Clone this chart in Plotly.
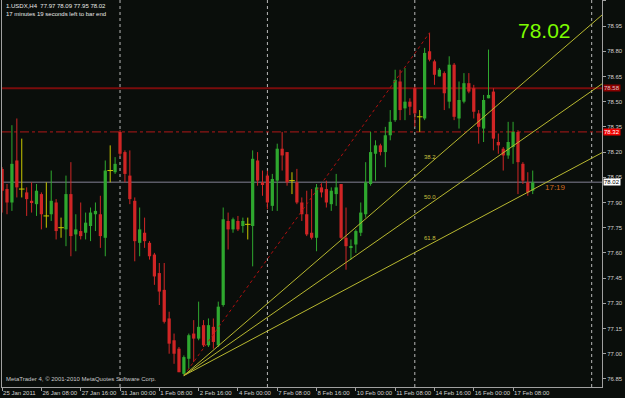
import plotly.graph_objects as go

# ---------------- data ----------------
opens = [78.10, 77.98, 77.90, 78.15, 77.98, 77.96, 77.91, 77.89, 77.95, 77.82,
         77.83, 77.90, 77.75, 77.74, 77.95, 77.71, 77.73, 77.72, 77.76, 77.83,
         77.83, 77.69, 78.09, 78.08, 78.32, 78.20, 78.06, 77.91, 77.66, 77.72,
         77.66, 77.59, 77.48, 77.38, 77.21, 77.08, 77.03, 76.88, 76.97, 77.12,
         77.09, 77.17, 77.05, 77.16, 77.05, 77.29, 77.79, 77.74, 77.79, 77.76,
         77.77, 77.76, 78.15, 78.02, 78.06, 77.88, 78.03, 78.22, 78.20, 78.03,
         78.02, 77.90, 77.83, 77.72, 77.69, 77.99, 77.98, 77.89, 77.95, 78.01,
         77.69, 77.63, 77.65, 77.72, 77.83, 78.01, 78.19, 78.24, 78.20, 78.30,
         78.39, 78.62, 78.46, 78.50, 78.58, 78.41, 78.40, 78.80, 78.74, 78.65,
         78.67, 78.50, 78.72, 78.40, 78.50, 78.61, 78.58, 78.43, 78.34, 78.52,
         78.56, 78.26, 78.22, 78.18, 78.23, 78.32, 78.13, 78.02, 77.97]
highs = [78.11, 78.01, 78.36, 78.40, 78.28, 77.99, 78.02, 78.01, 77.96, 78.02,
         78.09, 77.92, 77.81, 78.06, 78.14, 77.83, 77.90, 77.84, 77.87, 77.90,
         77.94, 78.15, 78.24, 78.17, 78.33, 78.21, 78.21, 77.93, 77.87, 77.81,
         77.67, 77.60, 77.54, 77.54, 77.25, 77.12, 77.04, 76.99, 77.12, 77.20,
         77.31, 77.20, 77.21, 77.21, 77.31, 77.87, 77.84, 77.81, 77.82, 77.81,
         77.81, 78.21, 78.20, 78.09, 78.09, 78.07, 78.25, 78.32, 78.20, 78.08,
         78.10, 77.93, 77.97, 77.98, 78.01, 78.01, 78.03, 77.99, 78.07, 78.01,
         77.87, 77.68, 77.74, 77.90, 78.14, 78.32, 78.27, 78.25, 78.35, 78.45,
         78.69, 78.69, 78.70, 78.52, 78.59, 78.45, 78.82, 78.91, 78.75, 78.70,
         78.68, 78.77, 78.73, 78.62, 78.67, 78.67, 78.60, 78.45, 78.54, 78.81,
         78.58, 78.31, 78.23, 78.38, 78.38, 78.33, 78.14, 78.08, 78.09]
lows = [77.84, 77.83, 77.85, 77.93, 77.93, 77.82, 77.84, 77.82, 77.74, 77.75,
        77.79, 77.68, 77.69, 77.64, 77.58, 77.61, 77.68, 77.68, 77.67, 77.73,
        77.63, 77.58, 78.02, 78.07, 78.17, 78.02, 77.89, 77.55, 77.58, 77.63,
        77.56, 77.41, 77.29, 77.18, 77.00, 76.94, 76.89, 76.87, 76.91, 76.95,
        77.08, 77.04, 77.04, 77.03, 77.04, 77.28, 77.62, 77.72, 77.73, 77.72,
        77.68, 77.52, 78.00, 77.94, 77.86, 77.85, 77.85, 78.09, 78.00, 77.95,
        77.89, 77.79, 77.70, 77.68, 77.61, 77.93, 77.87, 77.85, 77.88, 77.68,
        77.50, 77.56, 77.60, 77.70, 77.81, 78.00, 78.03, 78.18, 78.11, 78.27,
        78.38, 78.39, 78.39, 78.42, 78.35, 78.32, 78.39, 78.74, 78.60, 78.65,
        78.45, 78.46, 78.39, 78.34, 78.49, 78.55, 78.40, 78.25, 78.26, 78.52,
        78.21, 78.19, 78.09, 78.16, 78.13, 77.95, 78.01, 77.94, 77.95]
closes = [77.97, 77.90, 78.13, 77.99, 77.98, 77.92, 77.90, 77.97, 77.83, 77.82,
          77.91, 77.73, 77.75, 77.95, 77.70, 77.74, 77.70, 77.78, 77.84, 77.85,
          77.70, 78.09, 78.09, 78.13, 78.19, 78.07, 77.92, 77.67, 77.74, 77.67,
          77.58, 77.46, 77.37, 77.19, 77.06, 77.00, 76.89, 76.98, 77.11, 77.09,
          77.16, 77.05, 77.17, 77.07, 77.28, 77.80, 77.74, 77.80, 77.74, 77.79,
          77.77, 78.16, 78.03, 78.01, 77.90, 78.04, 78.22, 78.18, 78.02, 78.03,
          77.90, 77.83, 77.71, 77.69, 77.99, 77.96, 77.90, 77.97, 77.99, 77.69,
          77.64, 77.64, 77.73, 77.84, 78.02, 78.20, 78.24, 78.20, 78.30, 78.38,
          78.63, 78.45, 78.50, 78.47, 78.43, 78.41, 78.79, 78.75, 78.66, 78.69,
          78.55, 78.72, 78.41, 78.51, 78.61, 78.56, 78.44, 78.35, 78.51, 78.54,
          78.28, 78.24, 78.18, 78.26, 78.32, 78.14, 78.03, 77.96, 78.02]

tick_bars = [0, 8, 16, 24, 32, 40, 48, 56, 64, 72, 80, 88, 96, 104]
tick_labels = ["25 Jan 2011", "26 Jan 08:00", "27 Jan 16:00", "31 Jan 00:00",
               "1 Feb 08:00", "2 Feb 16:00", "4 Feb 00:00", "7 Feb 08:00",
               "8 Feb 16:00", "10 Feb 00:00", "11 Feb 08:00", "14 Feb 16:00",
               "16 Feb 00:00", "17 Feb 08:00"]
price_ticks = [76.85, 77.00, 77.15, 77.30, 77.45, 77.60, 77.75, 77.90, 78.05,
               78.20, 78.35, 78.50, 78.65, 78.80, 78.95, 79.10]
separator_bars = [24, 54, 84, 120]
fan_start = 37
fan_end = 87
fib_levels = [38.2, 50.0, 61.8]
hline_solid = 78.58
hline_dashdot = 78.32
bid_price = 78.02

X_MIN, X_MAX = -0.02, 122.1
Y_MIN, Y_MAX = 76.802, 79.105

BG = "#0a0e0b"
GREEN = "#2fa82f"
RED = "#d02626"
YELLOW = "#c8c800"
FONT = "Liberation Sans"

n = len(opens)
xs = list(range(n))

fig = go.Figure()

# wicks
for kind, col in (("bull", GREEN), ("bear", RED), ("doji", YELLOW)):
    wx, wy = [], []
    for i in xs:
        o, c = opens[i], closes[i]
        k = "bull" if c > o else ("bear" if c < o else "doji")
        if k != kind:
            continue
        wx += [i, i, None]
        wy += [lows[i], highs[i], None]
    fig.add_trace(go.Scatter(x=wx, y=wy, mode="lines",
                             line=dict(color=col, width=1), hoverinfo="skip"))

# bodies
for kind, col in (("bull", GREEN), ("bear", RED)):
    bx, bb, bh = [], [], []
    for i in xs:
        o, c = opens[i], closes[i]
        k = "bull" if c > o else ("bear" if c < o else "doji")
        if k != kind:
            continue
        bx.append(i)
        bb.append(min(o, c))
        bh.append(max(abs(c - o), 0.006))
    fig.add_trace(go.Bar(x=bx, y=bh, base=bb, width=0.66,
                         marker=dict(color=col, line=dict(width=0)),
                         hoverinfo="skip"))

# doji ticks
dx = [i for i in xs if opens[i] == closes[i]]
dy = [opens[i] for i in dx]
fig.add_trace(go.Scatter(x=dx, y=dy, mode="markers",
                         marker=dict(symbol="line-ew", size=4,
                                     line=dict(color=YELLOW, width=1)),
                         hoverinfo="skip"))

# red dotted trend line (low -> high)
p0 = lows[fan_start]
p1 = highs[fan_end]
fig.add_trace(go.Scatter(x=[fan_start, fan_end], y=[p0, p1], mode="lines",
                         line=dict(color="#b01010", width=1, dash="dot"),
                         hoverinfo="skip"))

# fibonacci fan
for lvl in fib_levels:
    lv_price = p1 - lvl / 100.0 * (p1 - p0)
    slope = (lv_price - p0) / (fan_end - fan_start)
    fig.add_trace(go.Scatter(x=[fan_start, X_MAX],
                             y=[p0, p0 + slope * (X_MAX - fan_start)],
                             mode="lines", line=dict(color="#b8b830", width=1),
                             hoverinfo="skip"))
    fig.add_annotation(x=fan_end, y=lv_price, text=f"{lvl:.1f}", showarrow=False,
                       yshift=7, font=dict(family=FONT, size=6, color="#c8c040"))

shapes = []
for s in separator_bars:
    shapes.append(dict(type="line", xref="x", yref="paper", x0=s, x1=s, y0=0, y1=1,
                       line=dict(color="#b8b8b8", width=1, dash="dot"), layer="below"))
shapes.append(dict(type="line", xref="paper", yref="y", x0=0, x1=1,
                   y0=hline_solid, y1=hline_solid,
                   line=dict(color="#7a0c0c", width=2), layer="below"))
shapes.append(dict(type="line", xref="paper", yref="y", x0=0, x1=1,
                   y0=hline_dashdot, y1=hline_dashdot,
                   line=dict(color="#b01818", width=1, dash="dashdot"), layer="below"))
shapes.append(dict(type="line", xref="paper", yref="y", x0=0, x1=1,
                   y0=bid_price, y1=bid_price,
                   line=dict(color="#5a5a66", width=1.5), layer="below"))

# axis price labels
for val, bg, fg in ((hline_solid, "#8a0000", "#e0c0c0"),
                    (hline_dashdot, "#f00000", "#ffffff"),
                    (bid_price, "#ffffff", "#000000")):
    fig.add_annotation(xref="paper", x=1, xanchor="left", xshift=1, y=val, yref="y",
                       text=f"{val:.2f}", showarrow=False, bgcolor=bg, borderpad=0,
                       font=dict(family=FONT, size=6, color=fg))

# texts
fig.add_annotation(xref="paper", yref="paper", x=0, y=1, xanchor="left", yanchor="top",
                   xshift=2, yshift=-1, showarrow=False, align="left",
                   text=f"1.USDX,H4  {opens[-1]:.2f} {highs[-1]:.2f} {lows[-1]:.2f} {closes[-1]:.2f}"
                        "<br>17 minutes 19 seconds left to bar end",
                   font=dict(family=FONT, size=6, color="#e8e8e8"))
fig.add_annotation(xref="paper", yref="paper", x=0.952, y=0.956, showarrow=False,
                   text=f"{closes[-1]:.2f}",
                   font=dict(family=FONT, size=21, color="#7cfc00"))
fig.add_annotation(x=110.0, y=77.99, xanchor="left", showarrow=False, text="17:19",
                   font=dict(family=FONT, size=8, color="#d2691e"))
fig.add_annotation(xref="paper", yref="paper", x=0, y=0.009, xanchor="left",
                   xshift=2, showarrow=False,
                   text="MetaTrader 4, © 2001-2010 MetaQuotes Software Corp.",
                   font=dict(family=FONT, size=6, color="#c8c8c8"))

fig.update_layout(
    width=625, height=398, margin=dict(l=2, r=23, t=0, b=11),
    paper_bgcolor=BG, plot_bgcolor=BG, showlegend=False, barmode="overlay",
    shapes=shapes, hovermode=False,
    xaxis=dict(range=[X_MIN, X_MAX], showgrid=False, zeroline=False, automargin=False,
               tickvals=tick_bars, ticktext=tick_labels, ticks="outside", ticklen=3,
               tickangle=0,
               tickcolor="#a0a0a0", showline=True, linecolor="#a0a0a0", linewidth=1,
               ticklabelposition="outside right",
               tickfont=dict(family=FONT, size=6, color="#d0d0d0")),
    yaxis=dict(range=[Y_MIN, Y_MAX], side="right", showgrid=False, zeroline=False,
               automargin=False,
               tickvals=price_ticks, ticktext=[f"{v:.2f}" for v in price_ticks],
               ticks="outside", ticklen=3, tickcolor="#a0a0a0", showline=True,
               mirror=True, linecolor="#a0a0a0", linewidth=1,
               tickfont=dict(family=FONT, size=6, color="#d0d0d0")),
)

fig.write_html("out.html")
